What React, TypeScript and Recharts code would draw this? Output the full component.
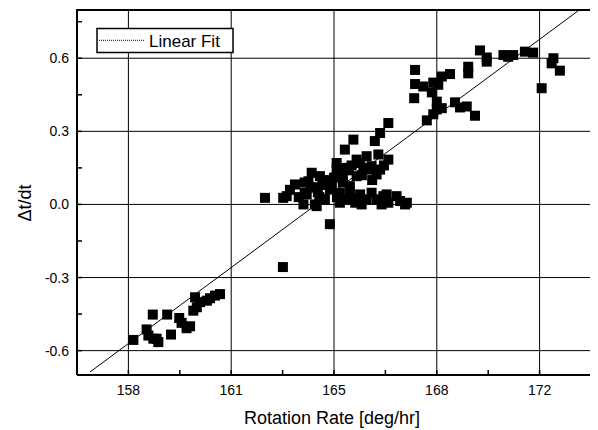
import React from 'react';
import { ScatterChart, Scatter, XAxis, YAxis, ReferenceLine } from 'recharts';

// Rotation rate [deg/hr] and Δt/dt for each measured point
const lowerRate = [158.17, 158.62, 158.68, 158.83, 158.85, 158.96, 159.02, 159.32, 159.45, 159.73, 159.81, 159.98, 160.10, 160.21, 160.27, 160.33, 160.44, 160.67, 160.78, 160.95, 161.12, 163.26];
const lowerDrift = [-0.556, -0.513, -0.538, -0.452, -0.551, -0.551, -0.565, -0.452, -0.534, -0.466, -0.486, -0.508, -0.5, -0.436, -0.381, -0.422, -0.401, -0.395, -0.385, -0.374, -0.368, -0.257];

const centerRate = [162.65, 163.27, 163.39, 163.5, 163.67, 163.8, 163.96, 164.0, 164.0, 164.07, 164.13, 164.2, 164.24, 164.3, 164.35, 164.41, 164.45, 164.5, 164.52, 164.6, 164.64, 164.69, 164.75, 164.86, 164.86, 164.92, 164.92, 165.0, 165.09, 165.09, 165.1, 165.2, 165.2, 165.3, 165.3, 165.3, 165.37, 165.43, 165.5, 165.54, 165.54, 165.6, 165.66, 165.72, 165.77, 165.77, 165.77, 165.89, 165.89, 165.94, 165.95, 166.0, 166.11, 166.11, 166.22, 166.28, 166.28, 166.3, 166.39, 166.45, 166.45, 166.51, 166.57, 166.57, 166.62, 166.68, 166.7, 166.79, 166.85, 166.85, 166.85, 167.13, 167.25, 167.42, 167.48];
const centerDrift = [0.027, 0.027, 0.034, 0.06, 0.082, 0.03, 0.0, 0.048, 0.09, 0.041, 0.095, 0.07, 0.13, 0.07, 0.0, -0.007, 0.05, 0.03, 0.116, 0.08, 0.021, 0.021, 0.1, 0.062, -0.081, 0.089, 0.075, 0.11, 0.143, 0.17, 0.03, 0.048, 0.007, 0.15, 0.09, 0.11, 0.225, 0.021, 0.14, 0.075, 0.048, 0.16, 0.266, 0.007, 0.184, 0.116, 0.027, 0.17, 0.041, 0.0, 0.12, 0.15, 0.198, 0.021, 0.143, 0.157, 0.048, 0.1, 0.26, 0.123, 0.021, 0.205, 0.293, 0.143, 0.0, 0.034, 0.16, 0.041, 0.334, 0.184, 0.007, 0.034, 0.014, 0.0, 0.007];

const upperRate = [167.76, 167.76, 167.73, 168.04, 168.16, 168.33, 168.38, 168.38, 168.5, 168.5, 168.55, 168.67, 168.67, 168.95, 169.12, 169.29, 169.52, 169.57, 169.57, 169.8, 169.97, 170.2, 170.2, 170.77, 170.93, 171.1, 171.5, 171.78, 172.07, 172.41, 172.47, 172.69];
const upperDrift = [0.552, 0.494, 0.436, 0.484, 0.345, 0.46, 0.37, 0.5, 0.422, 0.39, 0.491, 0.525, 0.395, 0.535, 0.419, 0.398, 0.402, 0.565, 0.538, 0.364, 0.632, 0.603, 0.586, 0.613, 0.606, 0.613, 0.627, 0.623, 0.477, 0.579, 0.6, 0.549];

const fitRate = [156.7, 173.35];
const fitDrift = [-0.687, 0.798];

const xDomain = [156.25, 173.75];
const yDomain = [-0.7, 0.8];
const xMajorTicks = [158, 161.5, 165, 168.5, 172];
const xTickLabels = ['158', '161', '165', '168', '172'];
const xMinorTicks = [159.75, 163.25, 166.75, 170.25];
const yMajorTicks = [-0.6, -0.3, 0, 0.3, 0.6];
const yTickLabels = ['-0.6', '-0.3', '0.0', '0.3', '0.6'];
const yMinorTicks = [-0.45, -0.15, 0.15, 0.45, 0.75];

const pointData = [
  ...lowerRate.map((x, i) => ({ x, y: lowerDrift[i] })),
  ...centerRate.map((x, i) => ({ x, y: centerDrift[i] })),
  ...upperRate.map((x, i) => ({ x, y: upperDrift[i] })),
];
const fitData = fitRate.map((x, i) => ({ x, y: fitDrift[i] }));

const FONT = '"Liberation Sans", Arial, Helvetica, sans-serif';
const INK = '#000';

const XTick = (props: any) => {
  const { x, y, payload } = props;
  const idx = xMajorTicks.indexOf(payload.value);
  return (
    <g>
      <line x1={x} x2={x} y1={y} y2={y - 5} stroke={INK} strokeWidth={1.5} />
      {idx >= 0 && (
        <text x={x} y={y + 20} textAnchor="middle" fontFamily={FONT} fontSize={14} fill={INK}>
          {xTickLabels[idx]}
        </text>
      )}
    </g>
  );
};

const YTick = (props: any) => {
  const { x, y, payload } = props;
  const idx = yMajorTicks.indexOf(payload.value);
  return (
    <g>
      <line x1={x} x2={x + 5} y1={y} y2={y} stroke={INK} strokeWidth={1.5} />
      {idx >= 0 && (
        <text x={x - 8} y={y + 5} textAnchor="end" fontFamily={FONT} fontSize={14} fill={INK}>
          {yTickLabels[idx]}
        </text>
      )}
    </g>
  );
};

const SquareMark = (props: any) => {
  const { cx, cy } = props;
  if (cx == null || cy == null) return <g />;
  return <rect x={cx - 5} y={cy - 5} width={10} height={10} fill={INK} />;
};

const NoMark = () => <g />;

export default function App() {
  return (
    <div style={{ position: 'relative', width: 590, height: 422 }}>
      <ScatterChart width={590} height={422} margin={{ top: 1.5, right: 7, bottom: 0, left: 0 }}>
        <XAxis
          type="number"
          dataKey="x"
          domain={xDomain}
          allowDataOverflow
          ticks={[...xMajorTicks, ...xMinorTicks]}
          tick={<XTick />}
          tickLine={false}
          tickSize={0}
          tickMargin={0}
          interval={0}
          height={55}
          axisLine={{ stroke: INK, strokeWidth: 2 }}
        />
        <YAxis
          type="number"
          dataKey="y"
          domain={yDomain}
          allowDataOverflow
          ticks={[...yMajorTicks, ...yMinorTicks]}
          tick={<YTick />}
          tickLine={false}
          tickSize={0}
          tickMargin={0}
          interval={0}
          width={69}
          axisLine={{ stroke: INK, strokeWidth: 2 }}
        />
        {xMajorTicks.map((v) => (
          <ReferenceLine key={'gx' + v} x={v} stroke={INK} strokeWidth={1} />
        ))}
        {yMajorTicks.map((v) => (
          <ReferenceLine key={'gy' + v} y={v} stroke={INK} strokeWidth={1} />
        ))}
        <Scatter
          name="Linear Fit"
          data={fitData}
          line={{ stroke: INK, strokeWidth: 1 }}
          shape={<NoMark />}
          isAnimationActive={false}
        />
        <Scatter name="data" data={pointData} shape={<SquareMark />} isAnimationActive={false} />
      </ScatterChart>
      <div
        style={{
          position: 'absolute',
          left: 68,
          top: 0.5,
          width: 514,
          height: 366,
          borderTop: '2px solid #000',
          borderRight: '2px solid #000',
          boxSizing: 'content-box',
          pointerEvents: 'none',
        }}
      />
      <svg
        width={590}
        height={422}
        style={{ position: 'absolute', left: 0, top: 0, pointerEvents: 'none' }}
      >
        <rect x={89} y={20.5} width={136} height={24} fill="#fff" stroke={INK} strokeWidth={1.5} />
        <line x1={91} x2={137} y1={32.3} y2={32.3} stroke={INK} strokeWidth={1} strokeDasharray="1 1" />
        <text x={141} y={38.5} fontFamily={FONT} fontSize={17} fill={INK}>
          Linear Fit
        </text>
        <text x={324} y={415.5} textAnchor="middle" fontFamily={FONT} fontSize={18} fill={INK}>
          Rotation Rate [deg/hr]
        </text>
        <text
          x={0}
          y={0}
          transform="translate(23 195) rotate(-90)"
          textAnchor="middle"
          fontFamily={FONT}
          fontSize={18}
          fill={INK}
        >
          Δt/dt
        </text>
      </svg>
    </div>
  );
}
